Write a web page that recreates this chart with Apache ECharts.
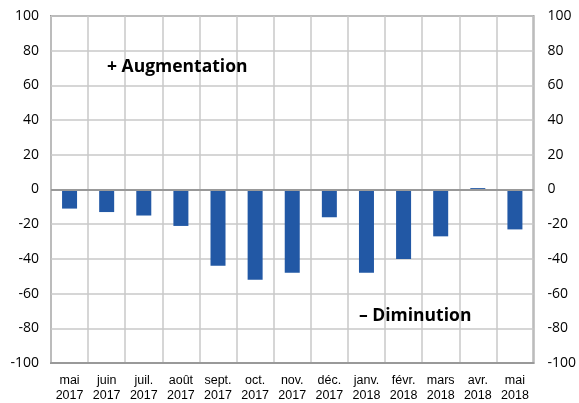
<!DOCTYPE html>
<html>
<head>
<meta charset="utf-8">
<script src="https://cdn.jsdelivr.net/npm/echarts@6/dist/echarts.min.js"></script>
<style>
  html, body { margin: 0; padding: 0; background: #fff; }
  #chart { width: 579px; height: 403px; }
</style>
</head>
<body>
<div id="chart"></div>
<script>
// mois (deux lignes : mois / année)
const months = ['mai', 'juin', 'juil.', 'août', 'sept.', 'oct.', 'nov.', 'déc.', 'janv.', 'févr.', 'mars', 'avr.', 'mai'];
const years = ['2017', '2017', '2017', '2017', '2017', '2017', '2017', '2017', '2018', '2018', '2018', '2018', '2018'];
const values = [-11, -13, -15, -21, -44, -52, -48, -16, -48, -40, -27, 0.8, -23];

const categories = months.map((m, i) => m + '\n' + years[i]);

const gridColor = '#c8c8c8';
const borderColor = '#999999';

function valueAxis(pos) {
  return {
    type: 'value',
    position: pos,
    min: -100,
    max: 100,
    interval: 20,
    axisLine: { show: false },
    axisTick: { show: false },
    splitLine: { show: pos === 'left', lineStyle: { color: gridColor, width: 1.5 } },
    axisLabel: {
      color: '#000',
      fontFamily: 'Open Sans',
      fontSize: 14,
      margin: pos === 'left' ? 12 : 14,
      align: pos === 'left' ? 'right' : 'left'
    }
  };
}

const chart = echarts.init(document.getElementById('chart'));
chart.setOption({
  animation: false,
  grid: {
    left: 51, right: 44, top: 16, bottom: 39,
    show: true,
    borderColor: borderColor,
    borderWidth: 2,
    backgroundColor: 'transparent'
  },
  xAxis: {
    type: 'category',
    data: categories,
    axisLine: { onZero: false, lineStyle: { color: borderColor, width: 2 } },
    axisTick: { show: false },
    splitLine: { show: true, lineStyle: { color: gridColor, width: 1.5 } },
    axisLabel: {
      color: '#000',
      fontFamily: 'Liberation Sans',
      fontSize: 12.5,
      lineHeight: 15,
      margin: 10,
      interval: 0
    }
  },
  yAxis: [valueAxis('left'), valueAxis('right')],
  series: [{
    type: 'bar',
    data: values,
    barWidth: 15,
    itemStyle: { color: '#2258a5' },
    markLine: {
      silent: true,
      symbol: 'none',
      label: { show: false },
      lineStyle: { color: borderColor, width: 2, type: 'solid' },
      data: [{ yAxis: 0 }]
    }
  }],
  graphic: [
    {
      type: 'text', left: 107, top: 58, z: 100,
      style: { text: '+ Augmentation', font: 'bold 17.5px "Open Sans"', fill: '#000' }
    },
    {
      type: 'text', left: 359, top: 307, z: 100,
      style: { text: '– Diminution', font: 'bold 17.5px "Open Sans"', fill: '#000' }
    }
  ]
});
</script>
</body>
</html>
